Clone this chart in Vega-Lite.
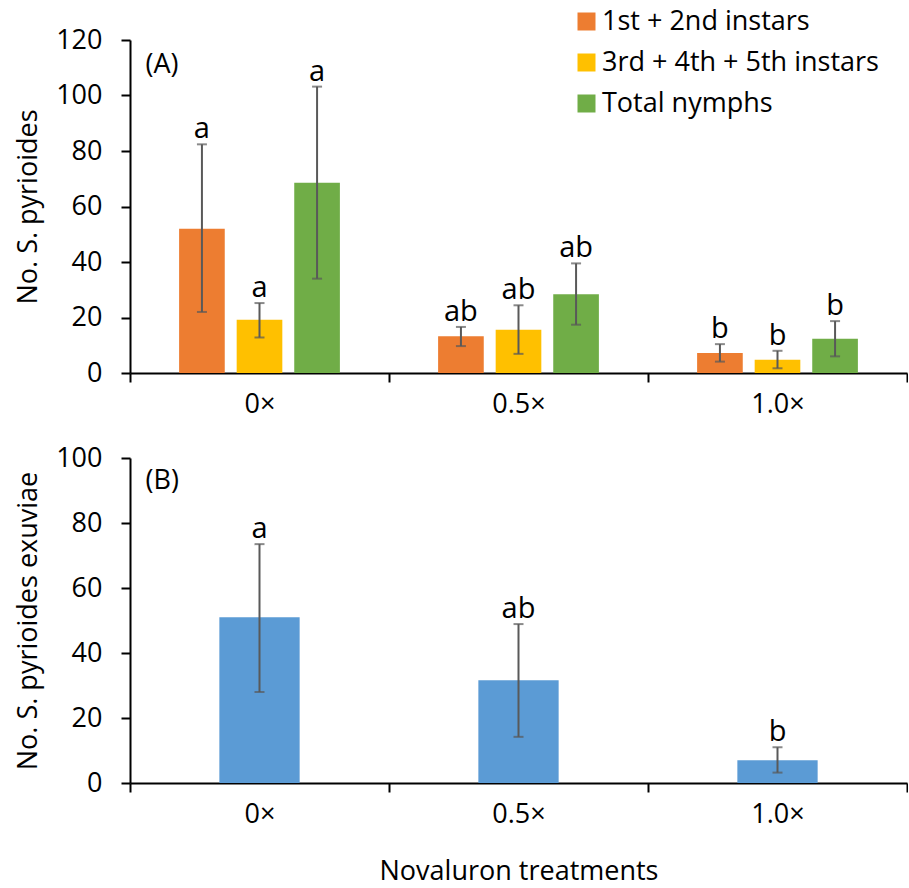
{
  "$schema": "https://vega.github.io/schema/vega-lite/v6.json",
  "padding": {"left": 14, "top": 8, "right": 0, "bottom": 2},
  "background": "white",
  "spacing": 27,
  "config": {
    "font": "Open Sans",
    "view": {"stroke": null},
    "axis": {
      "labelFont": "Open Sans",
      "titleFont": "Open Sans",
      "labelFontSize": 27,
      "titleFontSize": 27,
      "titleFontWeight": "normal",
      "labelColor": "black",
      "titleColor": "black",
      "domainColor": "black",
      "domainWidth": 2,
      "tickColor": "black",
      "tickWidth": 2,
      "tickSize": 9,
      "grid": false
    },
    "axisX": {"labelPadding": 9, "titlePadding": 31},
    "axisY": {"labelPadding": 19, "titlePadding": 13},
    "legend": {"labelFont": "Open Sans", "labelFontSize": 27, "labelColor": "black", "labelLimit": 500},
    "text": {"font": "Open Sans", "fontSize": 29, "color": "black"}
  },
  "datasets": {
    "nymphs": [
      {"treatment": "0×", "stage": "1st + 2nd instars", "mean": 52, "lo": 22, "hi": 82.4, "letter": "a"},
      {"treatment": "0×", "stage": "3rd + 4th + 5th instars", "mean": 19.2, "lo": 12.8, "hi": 25.2, "letter": "a"},
      {"treatment": "0×", "stage": "Total nymphs", "mean": 68.6, "lo": 34, "hi": 103.2, "letter": "a"},
      {"treatment": "0.5×", "stage": "1st + 2nd instars", "mean": 13.2, "lo": 9.7, "hi": 16.6, "letter": "ab"},
      {"treatment": "0.5×", "stage": "3rd + 4th + 5th instars", "mean": 15.6, "lo": 6.9, "hi": 24.4, "letter": "ab"},
      {"treatment": "0.5×", "stage": "Total nymphs", "mean": 28.4, "lo": 17.4, "hi": 39.5, "letter": "ab"},
      {"treatment": "1.0×", "stage": "1st + 2nd instars", "mean": 7.2, "lo": 4.1, "hi": 10.4, "letter": "b"},
      {"treatment": "1.0×", "stage": "3rd + 4th + 5th instars", "mean": 4.8, "lo": 1.7, "hi": 8.0, "letter": "b"},
      {"treatment": "1.0×", "stage": "Total nymphs", "mean": 12.3, "lo": 6.0, "hi": 18.7, "letter": "b"}
    ],
    "exuviae": [
      {"treatment": "0×", "mean": 51, "lo": 28, "hi": 73.5, "letter": "a"},
      {"treatment": "0.5×", "mean": 31.6, "lo": 14.2, "hi": 48.9, "letter": "ab"},
      {"treatment": "1.0×", "mean": 7, "lo": 3.2, "hi": 11, "letter": "b"}
    ]
  },
  "vconcat": [
    {
      "width": 777,
      "height": 333,
      "data": {"name": "nymphs"},
      "encoding": {
        "x": {
          "field": "treatment",
          "type": "nominal",
          "sort": ["0×", "0.5×", "1.0×"],
          "scale": {"paddingInner": 0, "paddingOuter": 0},
          "axis": {"title": null, "tickBand": "extent", "labelAngle": 0}
        }
      },
      "layer": [
        {
          "mark": {"type": "bar"},
          "encoding": {
            "xOffset": {
              "field": "stage",
              "type": "nominal",
              "scale": {
                "domain": ["1st + 2nd instars", "3rd + 4th + 5th instars", "Total nymphs"],
                "paddingInner": 0.207,
                "paddingOuter": 0.853
              }
            },
            "y": {
              "field": "mean",
              "type": "quantitative",
              "scale": {"domain": [0, 120], "nice": false},
              "axis": {"title": "No. S. pyrioides", "values": [0, 20, 40, 60, 80, 100, 120]}
            },
            "color": {
              "field": "stage",
              "type": "nominal",
              "scale": {
                "domain": ["1st + 2nd instars", "3rd + 4th + 5th instars", "Total nymphs"],
                "range": ["#ED7D31", "#FFC000", "#70AD47"]
              },
              "legend": {
                "title": null,
                "orient": "none",
                "legendX": 443,
                "legendY": -32,
                "direction": "vertical",
                "symbolType": "square",
                "symbolSize": 324,
                "symbolStrokeWidth": 0,
                "rowPadding": 13,
                "labelOffset": 2
              }
            }
          }
        },
        {
          "mark": {"type": "rule", "color": "#595959", "strokeWidth": 2},
          "encoding": {
            "xOffset": {"field": "stage", "type": "nominal"},
            "y": {"field": "lo", "type": "quantitative"},
            "y2": {"field": "hi"}
          }
        },
        {
          "mark": {"type": "tick", "color": "#595959", "orient": "horizontal", "size": 10, "thickness": 2},
          "encoding": {
            "xOffset": {"field": "stage", "type": "nominal"},
            "y": {"field": "hi", "type": "quantitative"}
          }
        },
        {
          "mark": {"type": "tick", "color": "#595959", "orient": "horizontal", "size": 10, "thickness": 2},
          "encoding": {
            "xOffset": {"field": "stage", "type": "nominal"},
            "y": {"field": "lo", "type": "quantitative"}
          }
        },
        {
          "mark": {"type": "text", "baseline": "alphabetic", "dy": -6},
          "encoding": {
            "xOffset": {"field": "stage", "type": "nominal"},
            "y": {"field": "hi", "type": "quantitative"},
            "text": {"field": "letter"}
          }
        },
        {
          "data": {"values": [{"treatment": "0×", "v": 111, "t": "(A)"}]},
          "mark": {"type": "text", "align": "left", "baseline": "middle", "dx": -114, "fontSize": 27},
          "encoding": {
            "y": {"field": "v", "type": "quantitative"},
            "text": {"field": "t"}
          }
        }
      ]
    },
    {
      "width": 777,
      "height": 325,
      "data": {"name": "exuviae"},
      "encoding": {
        "x": {
          "field": "treatment",
          "type": "nominal",
          "sort": ["0×", "0.5×", "1.0×"],
          "scale": {"paddingInner": 0, "paddingOuter": 0},
          "axis": {"title": "Novaluron treatments", "tickBand": "extent", "labelAngle": 0}
        }
      },
      "layer": [
        {
          "mark": {"type": "bar", "color": "#5B9BD5", "width": {"band": 0.31}},
          "encoding": {
            "y": {
              "field": "mean",
              "type": "quantitative",
              "scale": {"domain": [0, 100], "nice": false},
              "axis": {"title": "No. S. pyrioides exuviae", "values": [0, 20, 40, 60, 80, 100]}
            }
          }
        },
        {
          "mark": {"type": "rule", "color": "#595959", "strokeWidth": 2},
          "encoding": {
            "y": {"field": "lo", "type": "quantitative"},
            "y2": {"field": "hi"}
          }
        },
        {
          "mark": {"type": "tick", "color": "#595959", "orient": "horizontal", "size": 10, "thickness": 2},
          "encoding": {"y": {"field": "hi", "type": "quantitative"}}
        },
        {
          "mark": {"type": "tick", "color": "#595959", "orient": "horizontal", "size": 10, "thickness": 2},
          "encoding": {"y": {"field": "lo", "type": "quantitative"}}
        },
        {
          "mark": {"type": "text", "baseline": "alphabetic", "dy": -6},
          "encoding": {
            "y": {"field": "hi", "type": "quantitative"},
            "text": {"field": "letter"}
          }
        },
        {
          "data": {"values": [{"treatment": "0×", "v": 93, "t": "(B)"}]},
          "mark": {"type": "text", "align": "left", "baseline": "middle", "dx": -114, "fontSize": 27},
          "encoding": {
            "y": {"field": "v", "type": "quantitative"},
            "text": {"field": "t"}
          }
        }
      ]
    }
  ]
}
